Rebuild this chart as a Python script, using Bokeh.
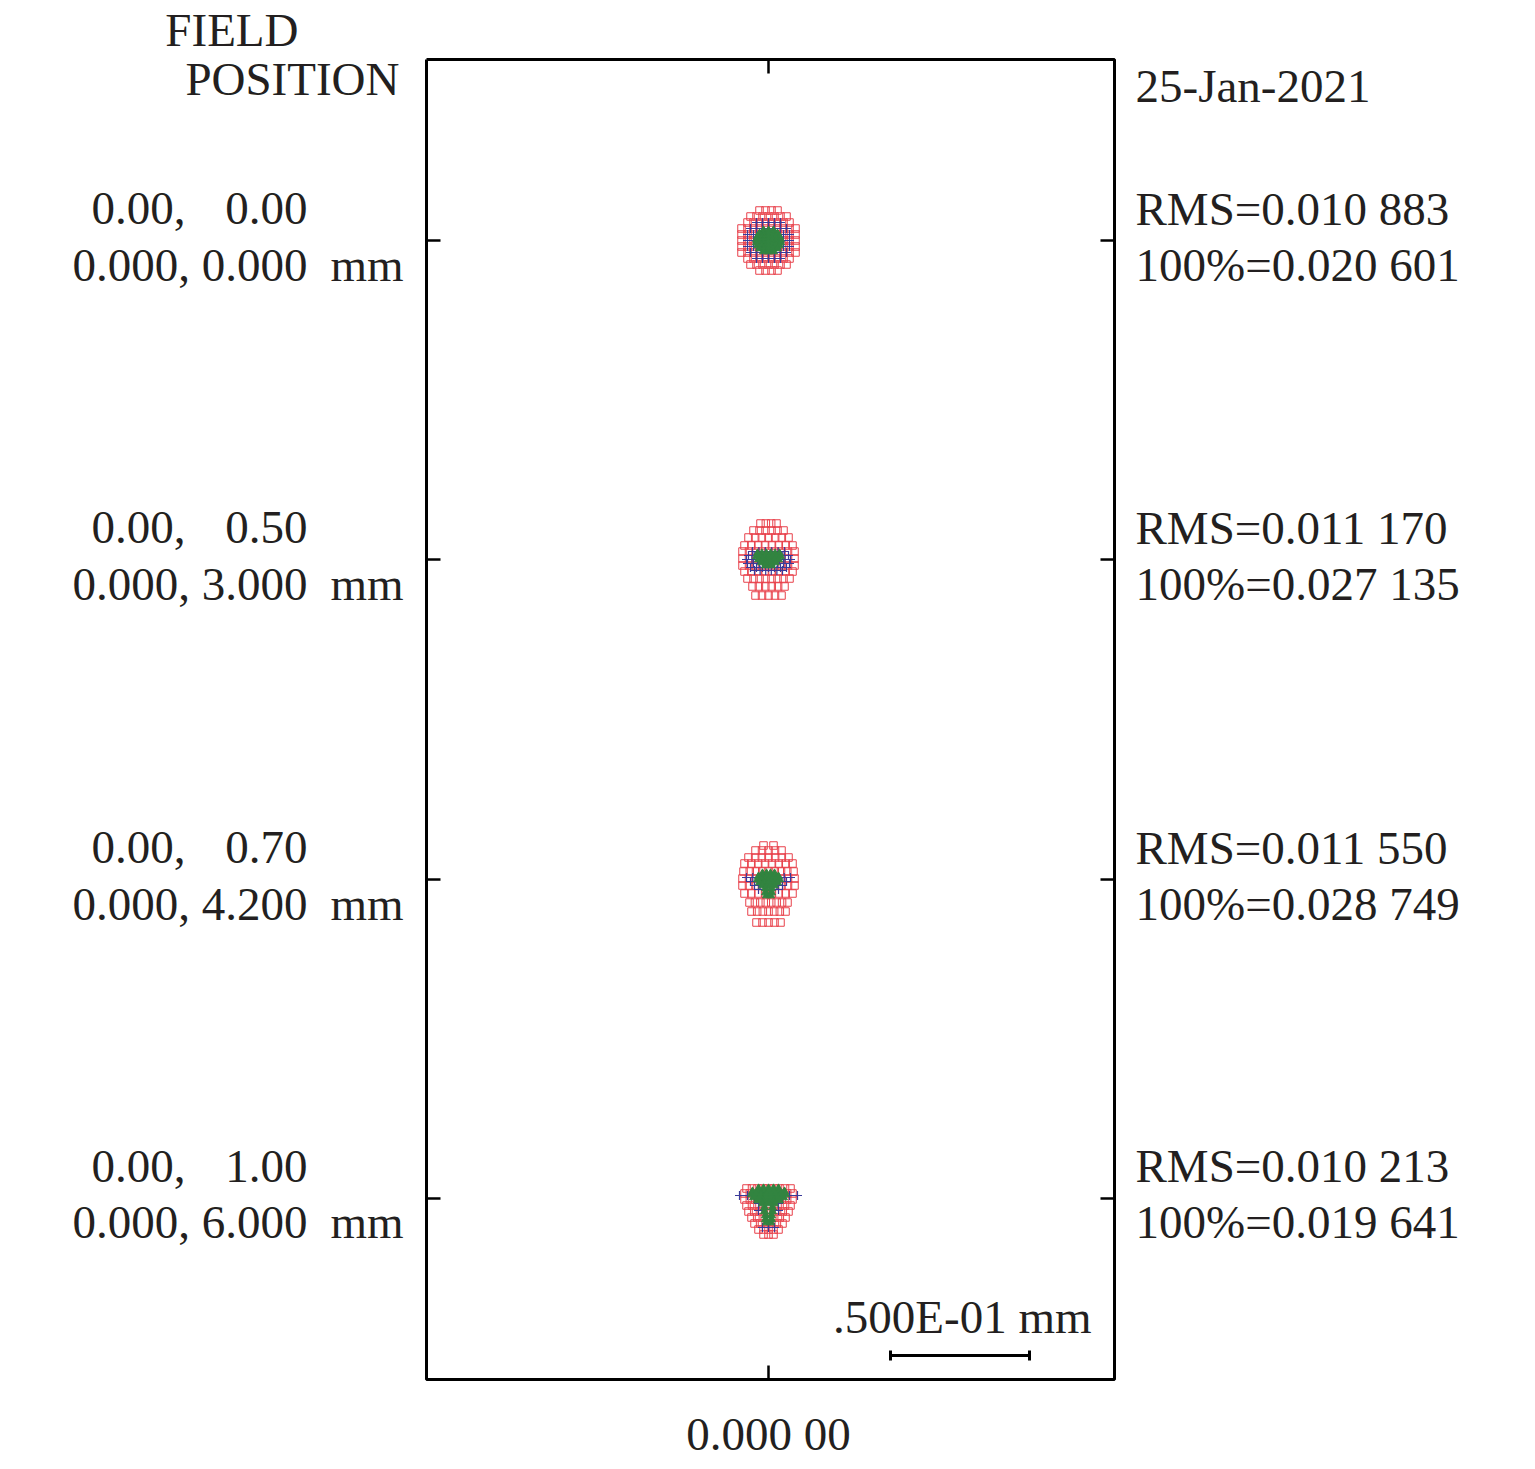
import numpy as np
from bokeh.plotting import figure
from bokeh.models import Range1d, ColumnDataSource
from bokeh.core.properties import value
from bokeh.embed import file_html
from bokeh.resources import INLINE

# ---------------- data ----------------
PX_PER_MM = 2780.0          # from the .500E-01 mm scale bar (139 px)
SCALE_LEN_MM = 0.05

field_deg = ["0.00", "0.50", "0.70", "1.00"]
field_mm = ["0.000", "3.000", "4.200", "6.000"]
rms = ["0.010 883", "0.011 170", "0.011 550", "0.010 213"]
geo100 = ["0.020 601", "0.027 135", "0.028 749", "0.019 641"]
field_y_mm = [0.0, -0.11475, -0.22986, -0.34460]   # spot centre heights on the sheet
x_ticks_mm = [0.0]
date_text = "25-Jan-2021"
x_tick_label = "0.000 00"
scale_text = ".500E-01 mm"

# spot rows: (dy px downward from spot centre, half width px, number of rays)
red_rows = [
    [(-30, 9, 4), (-24, 18, 7), (-18, 21, 8), (-12, 27, 10), (-6, 27, 10), (0, 27, 10),
     (6, 27, 10), (12, 27, 10), (18, 21, 8), (24, 18, 7), (30, 9, 4)],
    [(-36, 8, 4), (-29, 15, 6), (-22, 20, 7), (-14, 24, 8), (-8, 26, 9), (-1, 26, 9),
     (6, 26, 9), (12, 24, 8), (19, 21, 8), (27, 16, 6), (36, 13, 5)],
    [(-34, 5, 2), (-29, 13, 5), (-22, 20, 7), (-16, 24, 8), (-8, 25, 9), (-1, 26, 9),
     (6, 26, 9), (14, 24, 8), (23, 19, 8), (32, 17, 7), (43, 12, 5)],
    [(-10, 22, 9), (-5, 24, 10), (1, 24, 10), (7, 22, 9), (13, 20, 8), (19, 17, 7),
     (25, 14, 6), (31, 10, 5), (36, 5, 3)],
]
blue_rows = [
    [(-18, 12, 5), (-12, 18, 7), (-6, 21, 8), (0, 21, 8), (6, 21, 8), (12, 18, 7), (18, 12, 5)],
    [(-8, 16, 6), (-4, 20, 8), (0, 22, 9), (4, 21, 8), (8, 18, 7), (11, 14, 6)],
    [(-2, 22, 8), (2, 18, 6), (6, 14, 6), (10, 10, 4)],
    [(-3, 29, 2), (-3, 21, 2), (0, 14, 2), (5, 10, 2), (12, 10, 2), (29, 6, 3)],
]
green_rows = [
    [(-10, 5, 3), (-7, 9, 5), (-4, 11, 7), (-1, 12, 7), (2, 12, 7), (5, 11, 7), (8, 9, 5), (11, 5, 3)],
    [(-6, 11, 6), (-3, 12, 7), (0, 10, 6), (3, 7, 4), (6, 3, 2)],
    [(-6, 6, 4), (-3, 10, 6), (0, 11, 7), (3, 9, 5), (6, 6, 4), (9, 3, 2), (13, 3, 2), (16, 2, 2)],
    [(-10, 10, 5), (-7, 16, 7), (-4, 17, 8), (-1, 15, 7), (2, 11, 5), (5, 6, 3), (9, 4, 2),
     (13, 4, 2), (17, 3, 2), (21, 3, 2), (24, 2, 2)],
]

# ---------------- layout helpers (page pixels -> mm on the sheet) ----------------
W, H = 1527, 1461
def X(px):
    return (px - 768) / PX_PER_MM

def Y(py):
    return (240 - py) / PX_PER_MM

def rows_to_points(rows_per_field):
    xs, ys = [], []
    for yc, rows in zip(field_y_mm, rows_per_field):
        for dy, hw, n in rows:
            for dx in np.linspace(-hw, hw, n):
                xs.append(dx / PX_PER_MM)
                ys.append(yc - dy / PX_PER_MM)
    return ColumnDataSource(dict(x=xs, y=ys))

FONT = "Liberation Serif"
FS = "47px"
TXT = "#231f20"
BASE_SHIFT = 16   # renderer draws the alphabetic baseline this much lower

p = figure(width=W, height=H, output_backend="svg", toolbar_location=None,
           x_range=Range1d(X(0), X(W)), y_range=Range1d(Y(H), Y(0)),
           min_border=0, x_axis_location=None, y_axis_location=None)
p.grid.visible = False
p.outline_line_color = None
p.background_fill_color = "white"
p.border_fill_color = "white"

# frame box
L, R, T, B = X(426), X(1114), Y(59), Y(1379)
p.multi_line(xs=[[L, R, R, L, L]], ys=[[T, T, B, B, T]], line_color="black", line_width=3)

# ticks (inward, 14 px)
tk = 14 / PX_PER_MM
p.segment(x0=[L] * len(field_y_mm), y0=field_y_mm, x1=[L + tk] * len(field_y_mm), y1=field_y_mm,
          line_color="black", line_width=2.5)
p.segment(x0=[R] * len(field_y_mm), y0=field_y_mm, x1=[R - tk] * len(field_y_mm), y1=field_y_mm,
          line_color="black", line_width=2.5)
p.segment(x0=x_ticks_mm, y0=[T] * len(x_ticks_mm), x1=x_ticks_mm, y1=[T - tk] * len(x_ticks_mm),
          line_color="black", line_width=2.5)
p.segment(x0=x_ticks_mm, y0=[B] * len(x_ticks_mm), x1=x_ticks_mm, y1=[B + tk] * len(x_ticks_mm),
          line_color="black", line_width=2.5)

# spots
p.scatter("x", "y", source=rows_to_points(red_rows), marker="square", size=7.5,
          fill_color=None, line_color="#e8414b", line_width=1)
p.scatter("x", "y", source=rows_to_points(blue_rows), marker="cross", size=9,
          line_color="#3a3a9a", line_width=1.2)
p.scatter("x", "y", source=rows_to_points(green_rows), marker="triangle", size=8,
          fill_color="#328440", line_color="#328440")

# scale bar
bx0 = X(890)
bx1 = bx0 + SCALE_LEN_MM
by = Y(1355)
cap = 5 / PX_PER_MM
p.segment(x0=[bx0, bx0, bx1], y0=[by, by - cap, by - cap], x1=[bx1, bx0, bx1], y1=[by, by + cap, by + cap],
          line_color="black", line_width=3)

# texts
tx, ty, tt, ta = [], [], [], []
def lab(px, py, text, align="left"):
    tx.append(X(px)); ty.append(Y(py - BASE_SHIFT)); tt.append(text); ta.append(align)

lab(298, 45, "FIELD", "right")
lab(399, 94, "POSITION", "right")
lab(1135, 101, date_text)
for i, yc in enumerate(field_y_mm):
    cy = 240 - yc * PX_PER_MM
    lab(185, cy - 16, "0.00,", "right")
    lab(307, cy - 16, field_deg[i], "right")
    lab(307, cy + 40, "0.000, " + field_mm[i], "right")
    lab(403, cy + 40, "mm", "right")
    lab(1135, cy - 16, "RMS=" + rms[i])
    lab(1135, cy + 40, "100%=" + geo100[i])
lab(1091, 1332, scale_text, "right")
lab(768, 1449, x_tick_label, "center")

src = ColumnDataSource(dict(x=tx, y=ty, t=tt, a=ta))
p.text("x", "y", text="t", source=src, text_align="a", text_baseline="alphabetic",
       text_font=value(FONT), text_font_size=value(FS), text_color=TXT)

open("out.html", "w").write(file_html(p, INLINE))
